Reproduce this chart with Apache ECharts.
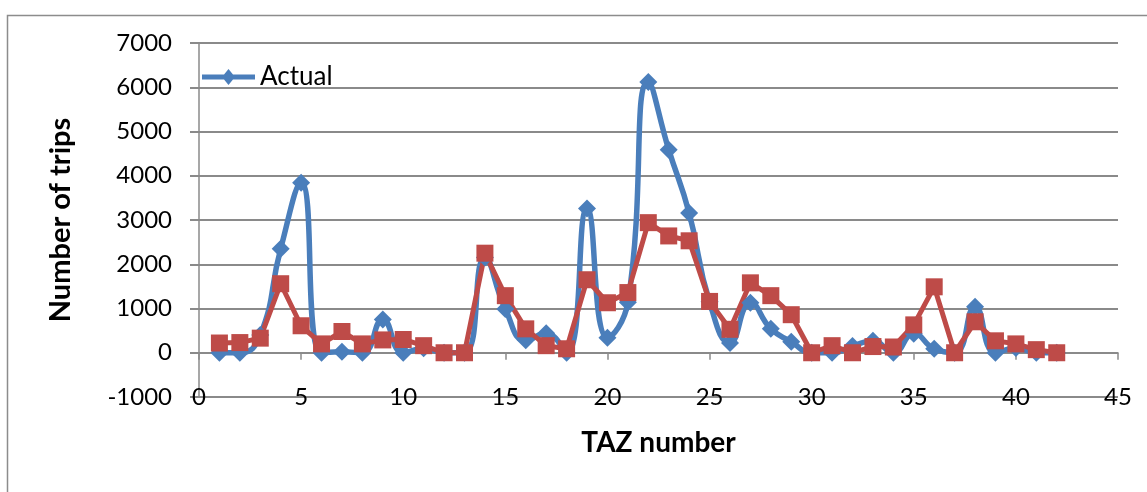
<!DOCTYPE html>
<html>
<head>
<meta charset="utf-8">
<script src="https://cdn.jsdelivr.net/npm/echarts@6/dist/echarts.min.js"></script>
<style>
html,body{margin:0;padding:0;background:#fff;}
#chart{width:1147px;height:492px;}
</style>
</head>
<body>
<div id="chart"></div>
<script>
var tazNumbers = [1,2,3,4,5,6,7,8,9,10,11,12,13,14,15,16,17,18,19,20,21,22,23,24,25,26,27,28,29,30,31,32,33,34,35,36,37,38,39,40,41,42];
var actualTrips = [0,0,400,2350,3840,0,20,0,750,0,100,0,0,2150,990,280,440,0,3260,340,1140,6120,4590,3160,1150,220,1130,540,250,0,0,150,270,0,430,90,0,1040,0,110,0,0];
var modelTrips = [220,230,330,1560,610,200,480,200,290,300,160,0,0,2250,1290,540,160,90,1650,1130,1360,2940,2640,2530,1160,530,1580,1290,860,0,160,0,140,130,630,1490,0,700,270,200,70,0];
var seriesNames = ['Actual', 'Estimated'];
var xTitle = 'TAZ number';
var yTitle = 'Number of trips';

function pairs(xs, ys){ return xs.map(function(x,i){ return [x, ys[i]]; }); }

var gridColor = '#8a8a8a';
var font = 'Lato, "Open Sans", sans-serif';
var chart = echarts.init(document.getElementById('chart'));
chart.setOption({
  animation: false,
  backgroundColor: '#fff',
  graphic: [{
    type: 'rect', left: 5, top: 13, z: -1,
    shape: {width: 1170, height: 520},
    style: {fill: 'none', stroke: '#8c8c8c', lineWidth: 1.5}
  }],
  legend: {
    data: [{name: 'Actual', icon: 'path://M0,6.5 L53,6.5 L53,11.5 L0,11.5 Z M26.5,1 L33,9 L26.5,17 L20,9 Z'}],
    left: 197, top: 59,
    itemWidth: 53, itemHeight: 17, itemGap: 5,
    textStyle: {fontFamily: font, fontSize: 26, color: '#000'}
  },
  grid: {left: 199, right: 29, top: 43, bottom: 95, containLabel: false},
  xAxis: [{
    type: 'value', min: 0, max: 45, interval: 5,
    axisLine: {show: true, onZero: true, lineStyle: {color: gridColor, width: 1.5}},
    axisTick: {show: true, length: 7, lineStyle: {color: gridColor, width: 1.5}},
    axisLabel: {show: false},
    splitLine: {show: false}
  }, {
    type: 'value', min: 0, max: 45, interval: 5, position: 'bottom',
    axisLine: {show: false, onZero: false},
    axisTick: {show: false},
    axisLabel: {show: true, margin: 0, verticalAlign: 'middle', fontFamily: font, fontSize: 24, color: '#000'},
    splitLine: {show: false},
    name: xTitle, nameLocation: 'middle', nameGap: 32,
    nameTextStyle: {fontFamily: font, fontSize: 28, fontWeight: 'bold', color: '#000'}
  }],
  yAxis: {
    type: 'value', min: -1000, max: 7000, interval: 1000,
    axisLine: {show: true, onZero: false, lineStyle: {color: gridColor, width: 1.5}},
    axisTick: {show: true, length: 9, lineStyle: {color: gridColor, width: 2}},
    axisLabel: {margin: 27, fontFamily: font, fontSize: 24, color: '#000',
      formatter: function(v){ return String(v); }},
    splitLine: {show: true, lineStyle: {color: gridColor, width: 2}},
    name: yTitle, nameLocation: 'middle', nameGap: 124, nameRotate: 90,
    nameTextStyle: {fontFamily: font, fontSize: 29, fontWeight: 'bold', color: '#000'}
  },
  series: [{
    name: seriesNames[0], type: 'line', xAxisIndex: 0,
    data: pairs(tazNumbers, actualTrips),
    smooth: 0.5,
    symbol: 'diamond', symbolSize: 18,
    lineStyle: {color: '#4a7ebb', width: 5.5},
    itemStyle: {color: '#4a7ebb'}
  }, {
    name: seriesNames[1], type: 'line', xAxisIndex: 0,
    data: pairs(tazNumbers, modelTrips),
    symbol: 'rect', symbolSize: 17,
    lineStyle: {color: '#be4b48', width: 5},
    itemStyle: {color: '#be4b48'}
  }]
});
</script>
</body>
</html>
